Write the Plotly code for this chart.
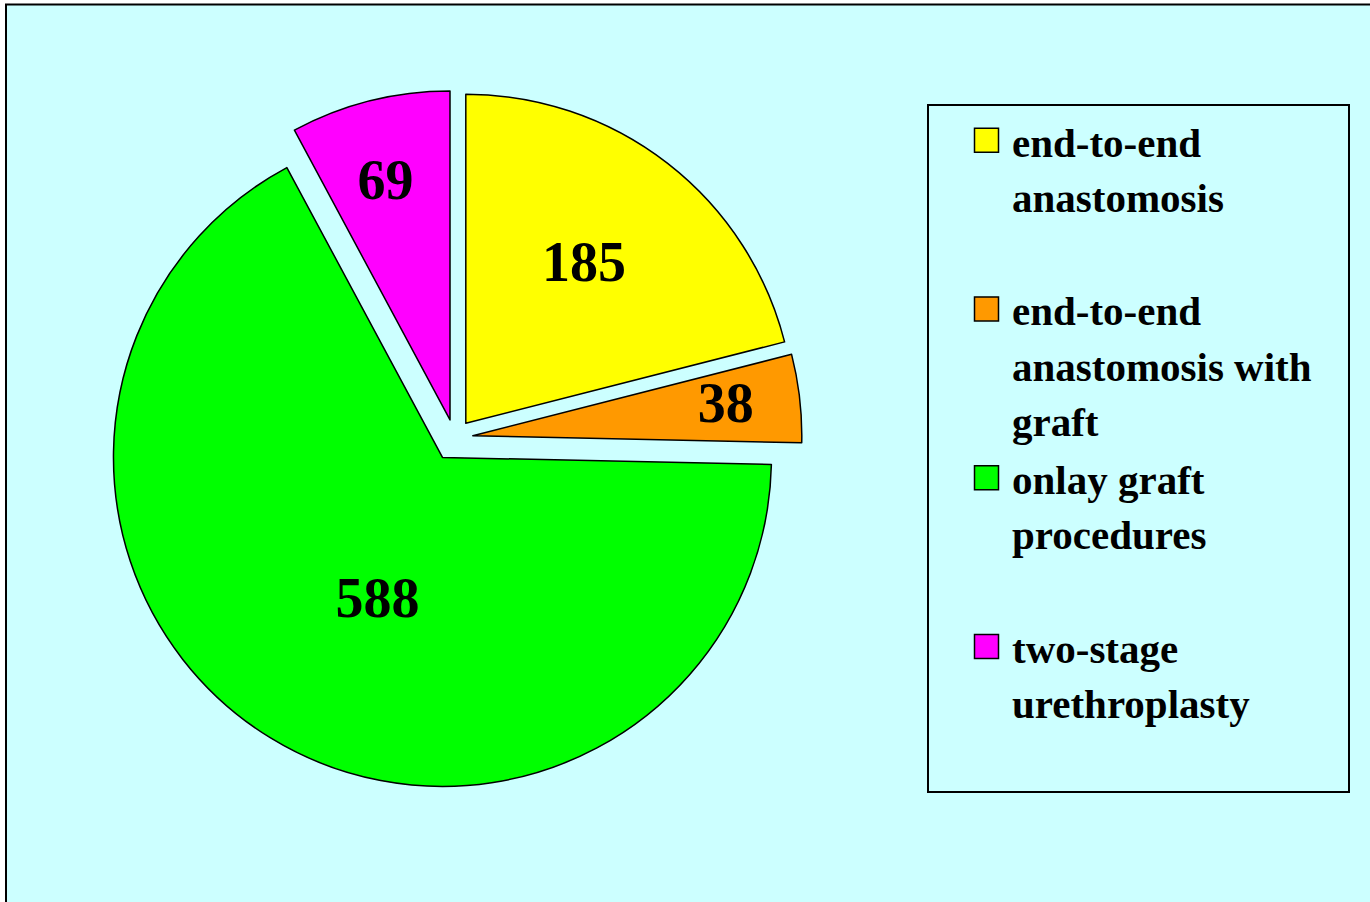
import plotly.graph_objects as go

categories = [
    ["end-to-end", "anastomosis", " "],
    ["end-to-end", "anastomosis with\u00a0\u00a0\u00a0", "graft"],
    ["onlay graft", "procedures", " "],
    ["two-stage", "urethroplasty", " "],
]
values = [185, 38, 588, 69]
colors = ["#FFFF00", "#FF9900", "#00FF00", "#FF00FF"]
pulls = [0.056, 0.056, 0.07, 0.056]
text_templates = [
    "%{value}\u00a0",
    "%{value}\u00a0\u00a0\u00a0\u00a0\u00a0",
    "\u00a0\u00a0\u00a0%{value}",
    "<span style='font-size:12px'>\u00a0</span><br>%{value}",
]

SERIF = "Liberation Serif, Times New Roman, serif"
W, H = 1370, 902
cx, cy, r = 454.5, 437.8, 329.0
half = r * (1 + max(pulls))

labels = ["<br>".join("<span style='font-size:41px'>%s</span>" % ln for ln in c)
          for c in categories]

fig = go.Figure(
    go.Pie(
        labels=labels,
        values=values,
        sort=False,
        direction="clockwise",
        rotation=0,
        pull=pulls,
        marker=dict(colors=colors, line=dict(color="black", width=1.5)),
        texttemplate=text_templates,
        textposition="inside",
        insidetextorientation="horizontal",
        textfont=dict(family=SERIF, size=56, color="black", weight="bold"),
        domain=dict(x=[(cx - half) / W, (cx + half) / W],
                    y=[1 - (cy + half) / H, 1 - (cy - half) / H]),
        hoverinfo="value",
    )
)

fig.update_layout(
    width=W,
    height=H,
    margin=dict(l=0, r=0, t=0, b=0),
    paper_bgcolor="white",
    uniformtext=dict(minsize=56, mode="show"),
    showlegend=True,
    legend=dict(
        x=927 / W,
        y=1 - 104 / H,
        xanchor="left",
        yanchor="top",
        valign="top",
        itemwidth=73,
        bgcolor="rgba(0,0,0,0)",
        bordercolor="black",
        borderwidth=2,
        font=dict(family=SERIF, size=42.5, color="black", weight="bold"),
    ),
    shapes=[
        dict(type="rect", xref="paper", yref="paper",
             x0=6 / W, x1=1.02, y0=-0.02, y1=1 - 4.5 / H,
             fillcolor="#CCFFFF", line=dict(color="black", width=2), layer="below"),
    ],
)

post = """
document.body.style.margin = '0';
var gd = document.getElementById('{plot_id}');
gd.querySelectorAll('.legendpie').forEach(function(p) {
  p.setAttribute('d', 'M28,12V-12H4V12Z');
});
"""

fig.write_html("out.html", post_script=post, config={"displayModeBar": False})
